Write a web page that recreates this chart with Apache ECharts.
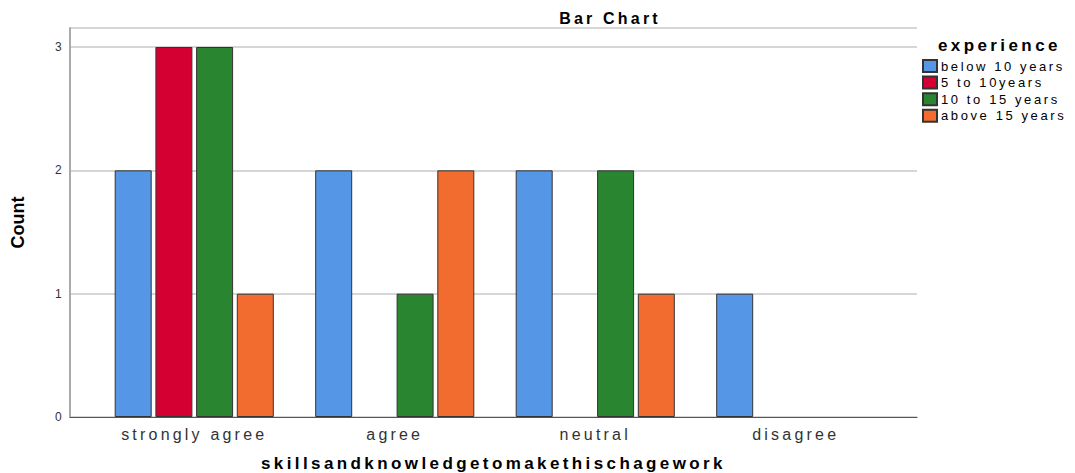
<!DOCTYPE html>
<html><head><meta charset="utf-8">
<script src="https://cdn.jsdelivr.net/npm/echarts@6/dist/echarts.min.js"></script>
<style>
html,body{margin:0;padding:0;background:#fff}
#c{width:1075px;height:473px}
#c svg text{letter-spacing:0.2em}
#c svg text[style*="Narrow"], #c svg text[font-family*="Narrow"]{letter-spacing:0}
</style>
</head><body><div id="c"></div>
<script>
const categories = ['strongly agree', 'agree', 'neutral', 'disagree'];
const below10 = [2, 2, 2, 1];
const from5to10 = [3, null, null, null];
const from10to15 = [3, 1, 2, null];
const above15 = [1, 2, 1, null];
const seriesNames = ['below 10 years', '5 to 10years', '10 to 15 years', 'above 15 years'];
const yTicks = [0, 1, 2, 3];

const colors = ['#5596e6', '#d50032', '#2a8530', '#f26b2f'];
const dataSets = [below10, from5to10, from10to15, above15];
const YMAX = 3.154;
const font = 'Liberation Sans, Arial, sans-serif';

const chart = echarts.init(document.getElementById('c'), null, {renderer: 'svg'});
chart.setOption({
  animation: false,
  backgroundColor: '#fff',
  title: [
    {text: 'Bar Chart', left: 605, top: 5, textAlign: 'center',
     textStyle: {fontFamily: font, fontSize: 16, fontWeight: 'bold', color: '#000'}},
    {text: 'experience', left: 933, top: 32,
     textStyle: {fontFamily: font, fontSize: 17, fontWeight: 'bold', color: '#000'}}
  ],
  legend: {
    orient: 'vertical', left: 922, top: 59, itemWidth: 14, itemHeight: 12, itemGap: 2.6,
    icon: 'rect', padding: 0,
    textStyle: {fontFamily: font, fontSize: 13, color: '#000', padding: [0, 0, 0, -1]},
    data: seriesNames
  },
  grid: [
    {left: 70, right: 158, top: 28, bottom: 56, outerBoundsMode: 'none', containLabel: false},
    {left: 94, right: 179, top: 28, bottom: 56, outerBoundsMode: 'none', containLabel: false}
  ],
  xAxis: [
    {type: 'value', gridIndex: 0, min: 0, max: 1, axisLine: {show: true, lineStyle: {color: '#555', width: 1}},
     axisTick: {show: false}, axisLabel: {show: false}, splitLine: {show: false},
     name: 'skillsandknowledgetomakethischagework', nameLocation: 'middle', nameGap: 38,
     nameTextStyle: {fontFamily: font, fontSize: 17, fontWeight: 'bold', color: '#000'}},
    {type: 'category', gridIndex: 1, data: categories, axisLine: {show: false}, axisTick: {show: false},
     axisLabel: {fontFamily: font, fontSize: 16, color: '#333', margin: 9}}
  ],
  yAxis: [
    {type: 'value', gridIndex: 0, min: 0, max: YMAX, interval: 1,
     axisLine: {show: true, lineStyle: {color: '#aaa', width: 2}}, axisTick: {show: false},
     axisLabel: {fontFamily: font, fontSize: 12, color: '#333', margin: 6,
       formatter: v => yTicks.indexOf(v) >= 0 ? String(v) : ''},
     splitLine: {show: true, lineStyle: {color: '#c8c8c8', width: 1.5}},
     name: 'Count', nameLocation: 'middle', nameGap: 43,
     nameTextStyle: {fontFamily: 'Liberation Sans Narrow, Liberation Sans, sans-serif', fontSize: 18, fontWeight: 'bold', color: '#000'}},
    {type: 'value', gridIndex: 1, min: 0, max: YMAX, interval: 1, show: false, splitLine: {show: false}}
  ],
  series: dataSets.map((d, i) => ({
    name: seriesNames[i], type: 'bar', xAxisIndex: 1, yAxisIndex: 1,
    data: d, barWidth: 37, barGap: '10%',
    itemStyle: {color: colors[i], borderColor: '#333', borderWidth: 1}
  }))
});
</script></body></html>
